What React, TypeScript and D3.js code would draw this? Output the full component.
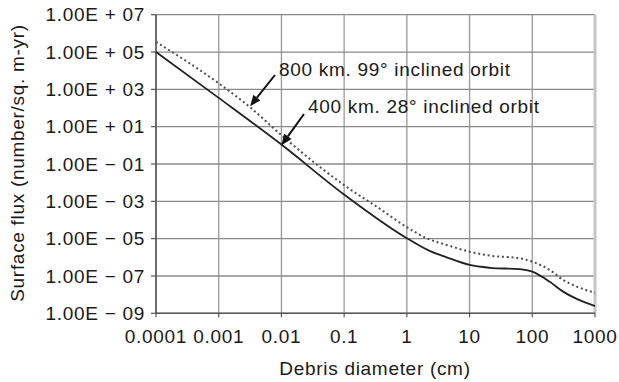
import React from "react";
import * as d3 from "d3";

const W = 619;
const H = 382;

// Debris diameter (cm) and surface flux values
const diam400 = [1e-4, 1e-3, 1e-2, 0.1, 1, 2.3, 4.3, 10, 21, 63, 100, 190, 310, 510, 1000];
const flux400 = [1e5, 3.5e2, 1.1, 2.3e-3, 1.05e-5, 2.2e-6, 1.0e-6, 3.9e-7, 2.75e-7, 2.3e-7, 1.7e-7, 4.9e-8, 1.45e-8, 5.9e-9, 2.45e-9];

const diam800 = [1e-4, 1e-3, 3.16e-3, 1e-2, 0.1, 0.37, 1, 2.3, 4.3, 10, 21, 63, 100, 190, 310, 510, 1000];
const flux800 = [3.5e5, 2.1e3, 1.1e2, 3.5, 7.4e-3, 4.0e-4, 4.1e-5, 9.1e-6, 4.6e-6, 2.0e-6, 1.23e-6, 8.9e-7, 5.8e-7, 2.1e-7, 6.2e-8, 2.7e-8, 1.26e-8];

const xTicks = [1e-4, 1e-3, 1e-2, 0.1, 1, 10, 100, 1000];
const xTickLabels = ["0.0001", "0.001", "0.01", "0.1", "1", "10", "100", "1000"];
const yTicks = [1e7, 1e5, 1e3, 1e1, 1e-1, 1e-3, 1e-5, 1e-7, 1e-9];
const yTickLabels = [
  "1.00E + 07", "1.00E + 05", "1.00E + 03", "1.00E + 01", "1.00E \u2212 01",
  "1.00E \u2212 03", "1.00E \u2212 05", "1.00E \u2212 07", "1.00E \u2212 09",
];

const labels = ["800 km. 99\u00b0 inclined orbit", "400 km. 28\u00b0 inclined orbit"];
// arrow tip anchor points (diameter, flux)
const tipDiam = [3.16e-3, 1e-2];
const tipFlux = [1.25e2, 1.0];

const FONT = "'Liberation Sans', Arial, Helvetica, sans-serif";

export default function App() {
  const x = d3.scaleLog().domain([1e-4, 1e3]).range([156, 595]);
  const y = d3.scaleLog().domain([1e-9, 1e7]).range([313.3, 14.7]);

  const line = d3
    .line<[number, number]>()
    .x((d) => x(d[0]))
    .y((d) => y(d[1]))
    .curve(d3.curveMonotoneX);

  const d400 = line(diam400.map((v, i) => [v, flux400[i]]) as [number, number][]) || "";
  const d800 = line(diam800.map((v, i) => [v, flux800[i]]) as [number, number][]) || "";

  const [x0, x1] = x.range();
  const [yb, yt] = y.range();

  const textPos = [
    { tx: 279, ty: 76, ax: 275, ay: 75 },
    { tx: 308, ty: 113, ax: 304, ay: 114 },
  ];

  const arrows = textPos.map((p, i) => {
    const tx = x(tipDiam[i]);
    const ty = y(tipFlux[i]);
    const ang = Math.atan2(ty - p.ay, tx - p.ax);
    const len = 11;
    const wid = 4.5;
    const bx = tx - len * Math.cos(ang);
    const by = ty - len * Math.sin(ang);
    const px = -Math.sin(ang) * wid;
    const py = Math.cos(ang) * wid;
    return {
      line: [p.ax, p.ay, bx, by],
      head: `M${tx},${ty}L${bx + px},${by + py}L${bx - px},${by - py}Z`,
    };
  });

  const txt = { fontSize: 19, letterSpacing: 0.7, fill: "#1a1a1a" };

  return (
    <svg
      width={W}
      height={H}
      style={{ position: "absolute", left: 0, top: 0, background: "#fff" }}
      fontFamily={FONT}
    >
      <rect width={W} height={H} fill="#fff" />
      {/* vertical grid */}
      {xTicks.map((t, i) => (
        <line key={"vg" + i} x1={x(t)} x2={x(t)} y1={yt} y2={yb} stroke="#9a9a9a" strokeWidth={1.3} />
      ))}
      {/* horizontal grid */}
      {yTicks.map((t, i) => (
        <line key={"hg" + i} x1={x0} x2={x1} y1={y(t)} y2={y(t)} stroke="#8a8a8a" strokeWidth={1.3} />
      ))}
      <line x1={x1} x2={x1} y1={yt} y2={yb} stroke="#c4c4c4" strokeWidth={3} />
      {/* axes */}
      <line x1={x0} x2={x0} y1={yt} y2={yb} stroke="#555" strokeWidth={1.5} />
      <line x1={x0} x2={x1} y1={yb} y2={yb} stroke="#555" strokeWidth={1.5} />
      {yTicks.map((t, i) => (
        <g key={"yt" + i}>
          <line x1={x0 - 5} x2={x0} y1={y(t)} y2={y(t)} stroke="#555" strokeWidth={1.2} />
          <text x={145} y={y(t)} dy="0.35em" textAnchor="end" {...txt}>
            {yTickLabels[i]}
          </text>
        </g>
      ))}
      {xTicks.map((t, i) => (
        <g key={"xt" + i}>
          <line x1={x(t)} x2={x(t)} y1={yb} y2={yb + 4} stroke="#555" strokeWidth={1.2} />
          <text x={x(t)} y={343} textAnchor="middle" {...txt}>
            {xTickLabels[i]}
          </text>
        </g>
      ))}
      <text x={375} y={375} textAnchor="middle" {...txt}>
        Debris diameter (cm)
      </text>
      <text transform={`translate(24,163) rotate(-90)`} textAnchor="middle" {...txt}>
        Surface flux (number/sq. m-yr)
      </text>

      {/* series */}
      <path d={d800} fill="none" stroke="#505050" strokeWidth={2} strokeDasharray="2,2.8" />
      <path d={d400} fill="none" stroke="#222" strokeWidth={1.8} />

      {/* annotations */}
      {arrows.map((a, i) => (
        <g key={"ar" + i}>
          <line x1={a.line[0]} y1={a.line[1]} x2={a.line[2]} y2={a.line[3]} stroke="#111" strokeWidth={2} />
          <path d={a.head} fill="#111" />
        </g>
      ))}
      {labels.map((l, i) => (
        <text key={"lb" + i} x={textPos[i].tx} y={textPos[i].ty} {...txt}>
          {l}
        </text>
      ))}
    </svg>
  );
}
